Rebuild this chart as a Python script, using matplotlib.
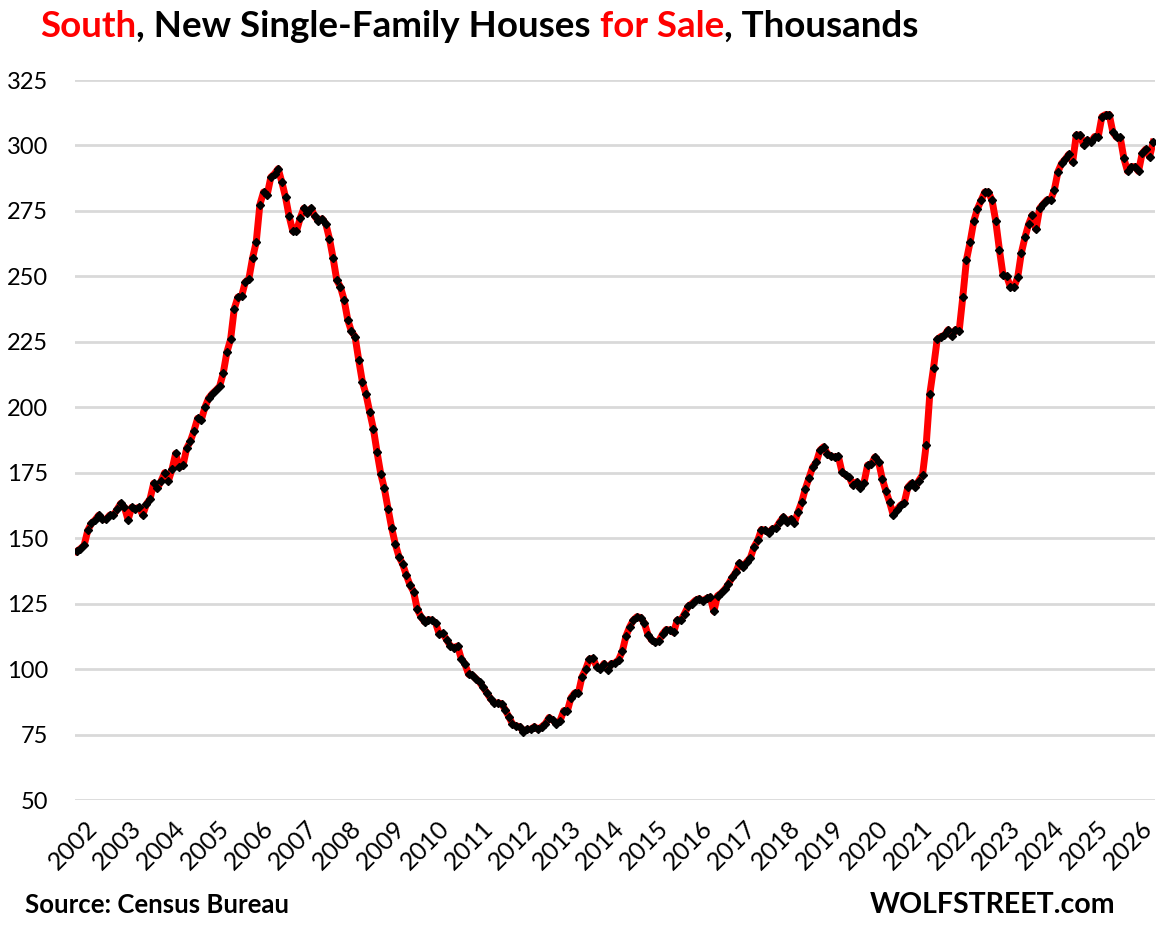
import numpy as np
import matplotlib
matplotlib.use("Agg")
import matplotlib.pyplot as plt
import matplotlib.transforms as mtransforms

plt.rcParams['font.family'] = ['Lato', 'DejaVu Sans']

# monthly values, thousands, Jan 2002 onward
y2002 = [145, 146, 147.3, 153, 155.7, 157, 158.8, 157.2, 157.2, 158.8, 158.8, 161]
y2003 = [163.3, 161.8, 157, 161.8, 161.3, 161.8, 158.8, 163, 165, 171, 169, 171.8]
y2004 = [175, 171.8, 176.3, 182.4, 177, 177.8, 184.3, 187, 191, 195.8, 195.2, 200]
y2005 = [203.5, 205.2, 206.5, 208, 213.1, 221.1, 225.9, 237.6, 242.1, 242.4, 247.8, 249.1]
y2006 = [257, 263.1, 277.4, 282.2, 281.2, 287.9, 289.2, 291.1, 286, 280.3, 272.9, 267.2]
y2007 = [267.2, 272.2, 276, 274.1, 276, 272.9, 271.1, 272, 270.1, 264.4, 257, 248.5]
y2008 = [246, 241.1, 233.4, 229, 227, 218, 209.7, 204.9, 198.2, 191.8, 182.9, 174.7]
y2009 = [169, 161.3, 153.9, 147.7, 142.9, 140.1, 135.9, 132.1, 129.5, 122.8, 120, 118]
y2010 = [118.9, 118.7, 117.6, 113.3, 113.6, 111.2, 108.9, 108.2, 108.8, 104, 102, 98]
y2011 = [97.7, 96.3, 95, 93, 90.9, 88.7, 87.1, 87.1, 86.8, 84.5, 81.8, 79]
y2012 = [78.3, 78, 76.1, 77, 77, 78, 77, 78, 79.2, 81.5, 80.5, 79.2]
y2013 = [80.3, 84.1, 84.1, 89.1, 90.9, 90.9, 97.1, 100, 103.8, 104.1, 100.9, 100]
y2014 = [102.1, 99.8, 102.1, 102.3, 103.6, 106.8, 112.6, 116.1, 118.7, 120, 119.7, 117.6]
y2015 = [113.2, 111.1, 110.2, 110.8, 113.4, 115.1, 114.9, 114, 118.7, 118.7, 121.2, 124]
y2016 = [125, 126.3, 126.9, 126, 127, 127.5, 122, 128, 129, 130.5, 132.5, 135]
y2017 = [137, 140.5, 139, 141, 142.6, 146.7, 149.2, 153.3, 153.1, 152, 153.6, 154]
y2018 = [156.2, 158.1, 156.2, 157.3, 155.8, 160, 163.8, 168.9, 173, 177.2, 179.1, 183.6]
y2019 = [184.9, 182.3, 181.3, 181, 181.3, 175.3, 174.1, 173.2, 170.2, 171.5, 169.3, 171.1]
y2020 = [177.9, 178.3, 181, 179.1, 172.7, 168, 163.8, 158.8, 160.9, 162.6, 163.5, 169.5]
y2021 = [171, 169.5, 172, 174.2, 185.7, 205.2, 215, 225.9, 227, 227.5, 229.6, 227.2]
y2022 = [229.6, 229.1, 242.1, 256.3, 263.1, 271.1, 275.8, 279, 282.2, 282.2, 279, 271.1]
y2023 = [260.2, 250.4, 250, 245.9, 245.9, 249.7, 259, 265, 270, 273.5, 268, 276]
y2024 = [277.7, 279.2, 279.2, 283, 290, 293.2, 294.8, 296.7, 293.6, 304, 304, 300.2]
y2025 = [302.1, 301.2, 303.4, 303.4, 311, 311.8, 311.8, 305, 303.1, 303.1, 295.1, 290.1]
y2026 = [291.9, 291.9, 290.1, 297, 298.6, 295.6, 301.2]

values = (y2002 + y2003 + y2004 + y2005 + y2006 + y2007 + y2008 + y2009 + y2010
          + y2011 + y2012 + y2013 + y2014 + y2015 + y2016 + y2017 + y2018 + y2019
          + y2020 + y2021 + y2022 + y2023 + y2024 + y2025 + y2026)
years = list(range(2002, 2027))
yticks = [50, 75, 100, 125, 150, 175, 200, 225, 250, 275, 300, 325]

fig = plt.figure(figsize=(11.6, 9.3), dpi=100)
ax = fig.add_axes([75 / 1160, 1 - 800 / 930, 1080 / 1160, 720 / 930])

x = np.arange(len(values))
ax.plot(x, values, color='#ff0000', lw=5, solid_joinstyle='round', zorder=3)
ax.plot(x, values, ls='none', marker='D', ms=4, color='black', zorder=4)

ax.set_xlim(-0.5, len(values) - 0.5)
ax.set_ylim(50, 325)
ax.set_yticks(yticks)
ax.set_yticklabels([str(v) for v in yticks], fontsize=17)
ax.grid(axis='y', color='#d9d9d9', lw=2)
ax.set_axisbelow(True)
for s in ax.spines.values():
    s.set_visible(False)
ax.tick_params(axis='both', length=0)
ax.tick_params(axis='y', pad=19.5)

ax.set_xticks(np.arange(0, len(values), 12))
ax.set_xticklabels([str(y) for y in years], fontsize=18, rotation=45,
                   ha='right', va='center', rotation_mode='anchor')
off = mtransforms.ScaledTranslation(17 / 100, -20 / 100, fig.dpi_scale_trans)
for lab in ax.get_xticklabels():
    lab.set_transform(lab.get_transform() + off)

# title in pieces, colored
parts = [("South", '#ff0000'), (", New Single-Family Houses ", 'black'),
         ("for Sale", '#ff0000'), (", Thousands", 'black')]
fig.canvas.draw()
r = fig.canvas.get_renderer()
xpos = 40
for txt, col in parts:
    t = fig.text(xpos / 1160, 1 - 37 / 930, txt, color=col, fontsize=26.5,
                 fontweight='bold', ha='left', va='baseline')
    xpos += t.get_window_extent(r).width

fig.text(25 / 1160, 1 - 913 / 930, "Source: Census Bureau", fontsize=18.5,
         fontweight='bold', ha='left', va='baseline')
fig.text(1115 / 1160, 1 - 913 / 930, "WOLFSTREET.com", fontsize=20.5,
         fontweight='bold', ha='right', va='baseline')

fig.savefig('out.png', dpi=100)
